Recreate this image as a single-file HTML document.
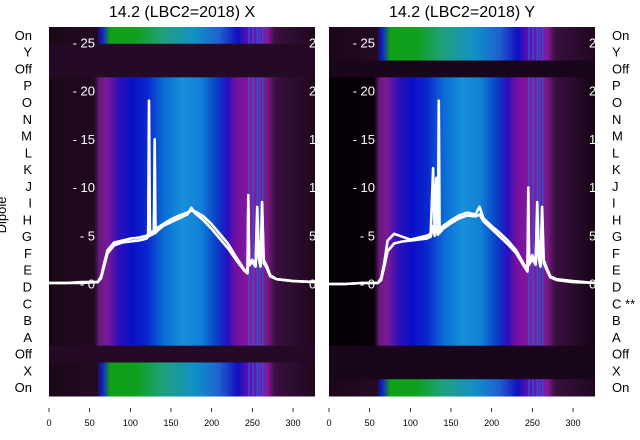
<!DOCTYPE html>
<html><head><meta charset="utf-8"><style>
html,body{margin:0;padding:0;background:#fff;width:640px;height:440px;overflow:hidden}
svg{display:block;font-family:"Liberation Sans","DejaVu Sans",sans-serif}
</style></head><body>
<svg id="chart" width="640" height="440">
<defs>
<linearGradient id="gMain" x1="0" x2="1" y1="0" y2="0">
<stop offset="0" stop-color="#1a0818"/><stop offset="0.17" stop-color="#220a22"/>
<stop offset="0.19" stop-color="#6a1a80"/><stop offset="0.22" stop-color="#7a1a98"/>
<stop offset="0.26" stop-color="#3010b8"/><stop offset="0.31" stop-color="#0a10c8"/>
<stop offset="0.37" stop-color="#0a28cc"/><stop offset="0.43" stop-color="#0a6ad6"/>
<stop offset="0.50" stop-color="#1890da"/><stop offset="0.57" stop-color="#1080d6"/>
<stop offset="0.63" stop-color="#0a40c8"/><stop offset="0.67" stop-color="#2510c0"/>
<stop offset="0.70" stop-color="#7010a0"/><stop offset="0.76" stop-color="#8a1a9a"/>
<stop offset="0.82" stop-color="#7a1a88"/><stop offset="0.85" stop-color="#3a1040"/>
<stop offset="1" stop-color="#1e081e"/></linearGradient>
<linearGradient id="gMainR" x1="0" x2="1" y1="0" y2="0">
<stop offset="0" stop-color="#050005"/><stop offset="0.17" stop-color="#080208"/>
<stop offset="0.19" stop-color="#6a1a80"/><stop offset="0.22" stop-color="#7a1a98"/>
<stop offset="0.26" stop-color="#3010b8"/><stop offset="0.31" stop-color="#0a10c8"/>
<stop offset="0.37" stop-color="#0a28cc"/><stop offset="0.43" stop-color="#0a6ad6"/>
<stop offset="0.50" stop-color="#1890da"/><stop offset="0.57" stop-color="#1080d6"/>
<stop offset="0.63" stop-color="#0a40c8"/><stop offset="0.67" stop-color="#2510c0"/>
<stop offset="0.70" stop-color="#7010a0"/><stop offset="0.76" stop-color="#8a1a9a"/>
<stop offset="0.82" stop-color="#7a1a88"/><stop offset="0.85" stop-color="#3a1040"/>
<stop offset="1" stop-color="#150515"/></linearGradient>
<linearGradient id="gOn" x1="0" x2="1" y1="0" y2="0">
<stop offset="0" stop-color="#1a0818"/><stop offset="0.18" stop-color="#240a24"/>
<stop offset="0.2" stop-color="#1020d0"/><stop offset="0.23" stop-color="#10a018"/>
<stop offset="0.33" stop-color="#10a020"/><stop offset="0.43" stop-color="#20a080"/>
<stop offset="0.55" stop-color="#1090c8"/><stop offset="0.64" stop-color="#2060d0"/>
<stop offset="0.71" stop-color="#1010c0"/><stop offset="0.75" stop-color="#6010b0"/>
<stop offset="0.82" stop-color="#8818a0"/><stop offset="0.85" stop-color="#3a1040"/>
<stop offset="1" stop-color="#1e081e"/></linearGradient>
</defs>
<g id="left"></g>
<g id="right"></g>
</svg>
<script>
const rowLabels = ["On","Y","Off","P","O","N","M","L","K","J","I","H","G","F","E","D","C","B","A","Off","X","On"];
const leftRowTypes = ["on","off","off","m","m","m","m","m","m","m","m","m","m","m","m","m","m","m","m","off","on","on"];
const rightRowTypes = ["on","on","off","m","m","m","m","m","m","m","m","m","m","m","m","m","m","m","m","off","off","on"];
const xTicks = [0,50,100,150,200,250,300];
const yTicks = [0,5,10,15,20,25];
const leftX = [0,20,40,60,64,68,72,80,90,100,110,120,122,123,124,126,129,130,131,133,140,150,160,170,175,180,190,200,210,220,230,240,244,245,246,250,254,256,258,260,262,264,268,272,280,300,328];
const leftY1 = [0.1,0.1,0.2,0.2,0.8,2.2,3.5,4.3,4.5,4.7,4.8,5.0,5.2,19,5.3,5.4,5.5,15,5.6,5.8,6.2,6.7,7.1,7.4,7.6,7.5,7.0,6.2,5.2,4.2,2.8,1.5,1.2,9.2,2.0,2.5,2.0,8.0,3.0,2.0,8.5,2.5,1.8,0.9,0.5,0.3,0.2];
const leftY2 = [0.1,0.1,0.1,0.2,0.6,1.9,3.2,4.0,4.3,4.4,4.5,4.7,4.9,12,5.0,5.1,5.2,10,5.3,5.5,6.0,6.4,6.8,7.2,7.9,7.3,6.6,5.7,4.7,3.7,2.5,1.4,1.1,8.0,1.9,2.3,1.8,7.0,2.6,1.8,7.6,2.2,1.6,0.8,0.5,0.3,0.2];
const rightX = [0,20,40,60,64,68,72,80,90,100,110,120,125,128,130,132,134,135,136,140,150,160,170,180,185,190,200,210,220,230,240,244,245,246,250,254,256,258,260,262,264,268,272,280,300,328];
const rightY1 = [0.0,0.0,0.1,0.1,0.6,2.2,4.5,5.2,4.9,4.6,4.8,5.0,5.2,12,5.3,11,5.4,19,5.6,6.0,6.6,7.1,7.4,7.2,8.0,6.8,6.0,5.3,4.5,3.5,2.0,1.5,10,2.2,3.0,2.2,8.5,3.0,2.0,8.0,2.5,1.6,0.8,0.5,0.3,0.1];
const rightY2 = [0.0,0.0,0.1,0.1,0.4,1.8,3.4,4.2,4.4,4.5,4.6,4.7,4.9,6,5.0,6,5.1,8,5.3,5.7,6.3,6.8,7.1,7.0,7.2,6.5,5.7,4.9,4.1,3.2,1.8,1.3,7,2.0,2.6,2.0,6.5,2.6,1.8,7.0,2.2,1.4,0.7,0.4,0.2,0.1];
const blueLinesX = [245,250,255,258,262];

const NS="http://www.w3.org/2000/svg";
function mk(tag,attrs,parent){const e=document.createElementNS(NS,tag);for(const k in attrs)e.setAttribute(k,attrs[k]);parent.appendChild(e);return e;}

function panel(g,x0,title,rowTypes,mainGrad,lxs,series,rightSide,offColor){
  const W=266, top=27, bottom=396, rowH=(bottom-top)/rowLabels.length;
  const sx=v=>x0+v*(244/300);
  const sy=v=>284-v*9.65;
  const t=mk('text',{x:x0+W/2,y:17,'text-anchor':'middle','font-size':16,fill:'#000'},g);
  t.textContent=title;
  
  
  rowTypes.forEach((tp,i)=>{
    const fill = tp==='on'?'url(#gOn)':tp==='off'?offColor:mainGrad;
    const r=mk('rect',{x:x0,y:top+i*rowH,width:W,height:rowH+0.5,fill:fill},g);
    
    
    if(tp!=='off'){
      blueLinesX.forEach(bx=>{
        const l=mk('rect',{x:sx(bx),y:top+i*rowH,width:1.5,height:rowH+0.5,fill:'#1a60e0',opacity:0.8},g);
        
        
      });
    }
    const lb=mk('text',{x:rightSide?x0+W+17:x0-17,y:top+i*rowH+rowH/2+4.5,'text-anchor':rightSide?'start':'end','font-size':13,fill:'#000'},g);
    lb.textContent=rowLabels[i]+(rightSide&&rowLabels[i]==='C'?' **':'');
    
    
  });
  series.forEach(ys=>{
    const d=lxs.map((v,i)=>(i?'L':'M')+sx(v).toFixed(1)+' '+sy(ys[i]).toFixed(1)).join(' ');
    const p=mk('path',{d:d,fill:'none',stroke:'#fff','stroke-width':2.6,'stroke-linejoin':'round'},g);
    
    
  });
  yTicks.forEach(v=>{
    const tl=mk('text',{x:x0+46,y:sy(v)+4.5,'text-anchor':'end','font-size':13,fill:'#fff'},g);
    tl.textContent='- '+v;
    
    
    const tr=mk('text',{x:x0+W-6,y:sy(v)+4.5,'text-anchor':'start','font-size':13,fill:'#fff'},g);
    tr.textContent=v;
    
    
  });
  xTicks.forEach(v=>{
    const l=mk('line',{x1:sx(v),x2:sx(v),y1:408,y2:412,stroke:'#000','stroke-width':0.8},g);
    
    
    const tx=mk('text',{x:sx(v),y:426,'text-anchor':'middle','font-size':9,fill:'#000'},g);
    tx.textContent=v;
    
    
  });
  const c=mk('rect',{x:x0+W,y:top,width:14,height:bottom-top,fill:'#fff'},g);
  
  
}
panel(document.getElementById('left'),49,'14.2 (LBC2=2018) X',leftRowTypes,'url(#gMain)',leftX,[leftY1,leftY2],false,'#240a24');
panel(document.getElementById('right'),329,'14.2 (LBC2=2018) Y',rightRowTypes,'url(#gMainR)',rightX,[rightY1,rightY2],true,'#1a061a');
const svg=document.getElementById('chart');
const yl=mk('text',{x:6,y:215,'text-anchor':'middle','font-size':13,fill:'#000',transform:'rotate(-90 6 215)'},svg);
yl.textContent='Dipole';


</script>
</body></html>
